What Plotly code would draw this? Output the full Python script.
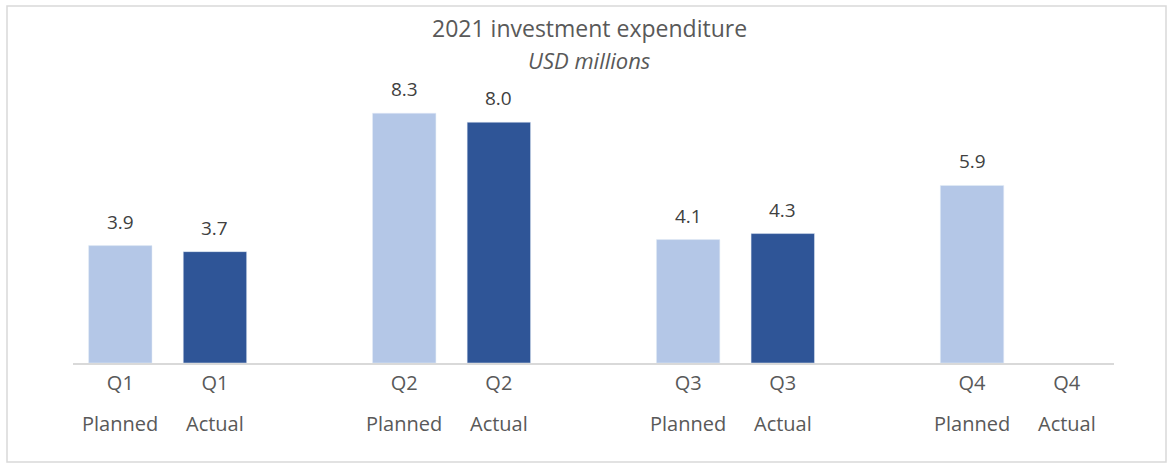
import plotly.graph_objects as go

quarters = ["Q1", "Q2", "Q3", "Q4"]
kinds = ["Planned", "Actual"]
planned = [3.9, 8.3, 4.1, 5.9]
actual = [3.7, 8.0, 4.3, None]
planned_color = "#B4C7E7"
actual_color = "#2F5597"

# slot positions: each quarter uses two slots plus one blank spacer slot
xp = [3 * i for i in range(len(quarters))]
xa = [3 * i + 1 for i in range(len(quarters))]

font_family = "Open Sans, Noto Sans, sans-serif"
W, H = 1171, 468
L, R, T, B = 73, 57, 62, 105
pw, ph = W - L - R, H - T - B

fig = go.Figure()
fig.add_trace(go.Bar(x=xp, y=planned, width=0.67, marker_color=planned_color, name="Planned"))
fig.add_trace(go.Bar(x=xa, y=actual, width=0.67, marker_color=actual_color, name="Actual"))

annotations = []
# data labels
for xs, vals in ((xp, planned), (xa, actual)):
    for x, v in zip(xs, vals):
        if v is None:
            continue
        annotations.append(dict(
            x=x, y=v, xref="x", yref="y", text=f"{v:.1f}", showarrow=False,
            yanchor="bottom", yshift=9,
            font=dict(size=19, color="#404040", family=font_family),
        ))
# two-line category labels
tickvals, ticktext = [], []
for i, q in enumerate(quarters):
    for x, k in ((xp[i], kinds[0]), (xa[i], kinds[1])):
        tickvals.append(x)
        ticktext.append(q)
        annotations.append(dict(
            x=x, y=-(423 - 363) / ph, xref="x", yref="paper", text=k, showarrow=False,
            yanchor="middle",
            font=dict(size=20, color="#595959", family=font_family),
        ))
# title lines
for text, yc in (("2021 investment expenditure", 28), ("<i>USD millions</i>", 60)):
    annotations.append(dict(
        x=(589 - L) / pw, y=1 + (T - yc) / ph, xref="paper", yref="paper",
        xanchor="center", yanchor="middle", text=text, showarrow=False,
        font=dict(size=23 if yc == 28 else 22, color="#595959", family=font_family),
    ))

fig.update_layout(
    width=W, height=H,
    paper_bgcolor="white", plot_bgcolor="white",
    showlegend=False,
    barmode="overlay",
    margin=dict(l=L, r=R, t=T, b=B),
    annotations=annotations,
    xaxis=dict(
        range=[-0.5, 10.5], tickvals=tickvals, ticktext=ticktext,
        showgrid=False, zeroline=False, showline=True, linecolor="#D9D9D9", linewidth=2,
        ticks="outside", ticklen=1, tickcolor="rgba(0,0,0,0)",
        tickfont=dict(size=20, color="#595959", family=font_family),
    ),
    yaxis=dict(range=[0, 10], visible=False),
    shapes=[dict(
        type="rect", xref="paper", yref="paper",
        x0=(7 - L) / pw, x1=(1166 - L) / pw,
        y0=-(462 - (T + ph)) / ph, y1=1 + (T - 6) / ph,
        line=dict(color="#D9D9D9", width=1.5), fillcolor="rgba(0,0,0,0)",
    )],
)

fig.write_html("out.html")
